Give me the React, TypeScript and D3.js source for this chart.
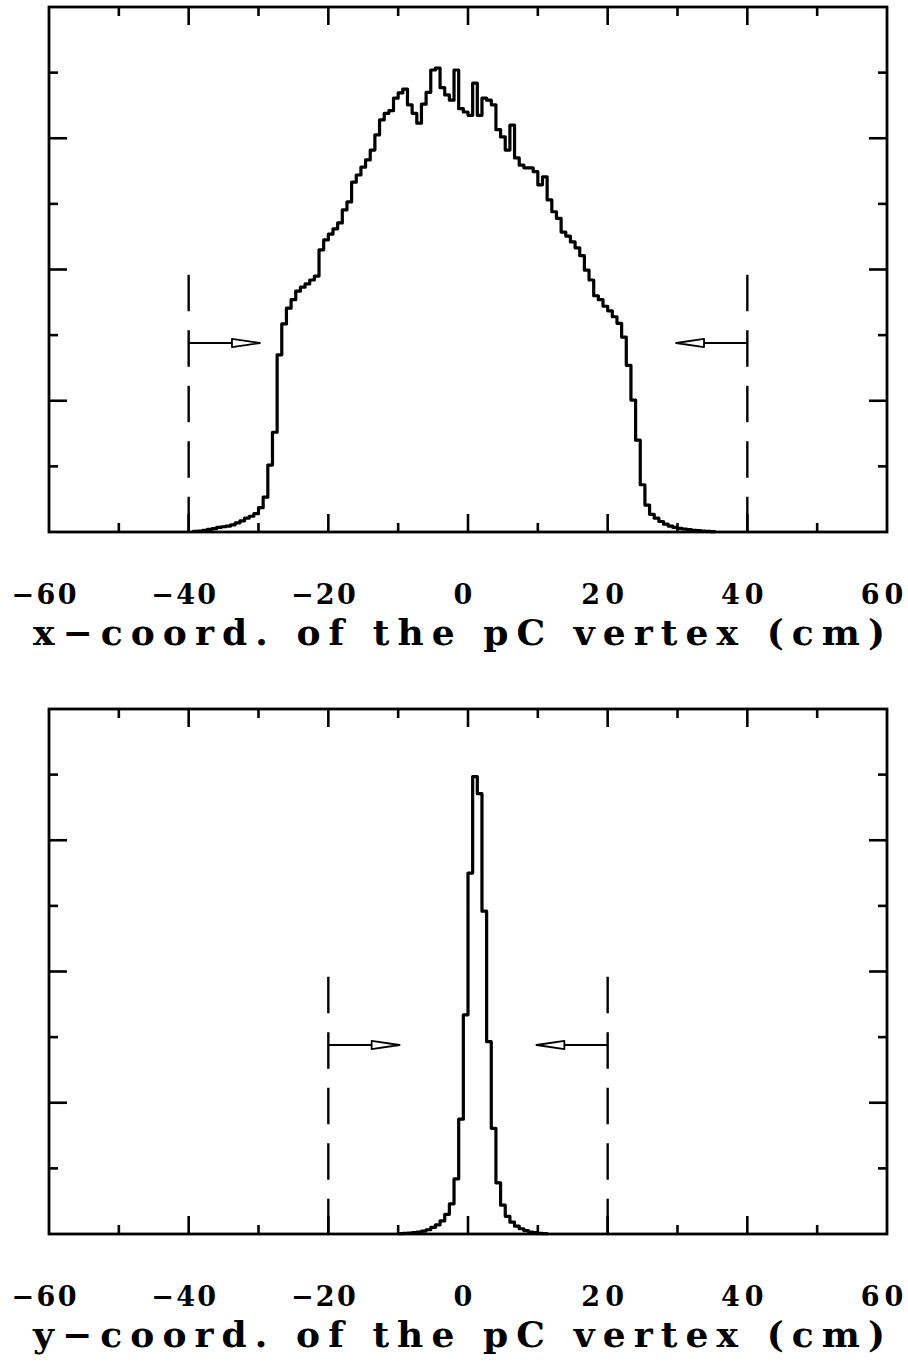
import React from "react";
import * as d3 from "d3";

// ---- data ----
const binWidth = 2 / 3; // cm
const xFirstEdge = -59 * binWidth; // first bin left edge (cm)
const xCounts = [
  0.01, 0.015, 0.025, 0.04, 0.05, 0.07, 0.08, 0.09, 0.11, 0.14,
  0.17, 0.21, 0.24, 0.28, 0.37, 0.53, 1.02, 1.52, 2.7, 3.17,
  3.41, 3.54, 3.67, 3.73, 3.78, 3.84, 3.9, 4.3, 4.45, 4.54,
  4.62, 4.71, 4.91, 5.03, 5.33, 5.44, 5.56, 5.67, 5.82, 6.05,
  6.28, 6.38, 6.42, 6.61, 6.69, 6.75, 6.51, 6.38, 6.23, 6.52,
  6.7, 7.04, 7.07, 6.77, 6.66, 6.58, 7.04, 6.45, 6.4, 6.35,
  6.84, 6.35, 6.61, 6.58, 6.51, 6.13, 6.02, 5.82, 6.2, 5.7,
  5.59, 5.55, 5.55, 5.49, 5.29, 5.41, 5.06, 4.88, 4.78, 4.57,
  4.51, 4.42, 4.33, 4.21, 3.99, 3.84, 3.6, 3.54, 3.44, 3.37,
  3.28, 3.18, 2.97, 2.54, 2.01, 1.4, 0.72, 0.41, 0.27, 0.21,
  0.16, 0.12, 0.09, 0.07, 0.056, 0.046, 0.035, 0.027, 0.021, 0.015,
  0.01, 0.007,
];
const yFirstEdge = -15 * binWidth;
const yCounts = [
  0.005, 0.01, 0.015, 0.02, 0.03, 0.045, 0.065, 0.1, 0.14, 0.2,
  0.3, 0.46, 0.84, 1.75, 3.34, 5.5, 6.97, 6.71, 4.92, 2.93,
  1.61, 0.78, 0.44, 0.27, 0.18, 0.12, 0.08, 0.05, 0.03, 0.02,
  0.01, 0.005,
];
const xTickValues = [-60, -40, -20, 0, 20, 40, 60];
const xTickLabels = ["\u221260", "\u221240", "\u221220", "0", "20", "40", "60"];
const minorXTicks = [-50, -30, -10, 10, 30, 50];
const majorYTicks = [2, 4, 6];
const minorYTicks = [1, 3, 5, 7];
const xCut = 40;
const yCut = 20;
const titles = ["x\u2212coord. of the pC vertex (cm)", "y\u2212coord. of the pC vertex (cm)"];

const W = 908;
const H = 1362;
const FONT = "'DejaVu Serif', serif";

function Panel({ top, counts, firstEdge, cut, title }: { top: number; counts: number[]; firstEdge: number; cut: number; title: string }) {
  const left = 49, right = 887, height = 525;
  const bottom = top + height;
  const x = d3.scaleLinear().domain([-60, 60]).range([left, right]);
  const y = d3.scaleLinear().domain([0, 8]).range([bottom, top]);

  const pts: [number, number][] = [[firstEdge, 0]];
  counts.forEach((v, i) => pts.push([firstEdge + i * binWidth, v]));
  pts.push([firstEdge + counts.length * binWidth, 0]);
  const line = d3
    .line<[number, number]>()
    .x((d) => x(d[0]))
    .y((d) => y(d[1]))
    .curve(d3.curveStepAfter);

  const majL = 18, minL = 9;
  const dashTop = 3.92, arrowV = 2.88, lineLen = 6.2, headLen = 4.0;

  const arrow = (xc: number, dir: number) => {
    const x0 = x(xc);
    const xb = x(xc + dir * lineLen);
    const xt = x(xc + dir * (lineLen + headLen));
    const ya = y(arrowV);
    return (
      <g>
        <line x1={x0} x2={xb} y1={ya} y2={ya} stroke="#000" strokeWidth={2} />
        <path
          d={`M${xb},${ya - 4.2} L${xt},${ya} L${xb},${ya + 4.2} Z`}
          fill="#fff"
          stroke="#000"
          strokeWidth={1.8}
          strokeLinejoin="round"
        />
      </g>
    );
  };

  return (
    <g>
      {[-cut, cut].map((c) => (
        <line
          key={c}
          x1={x(c)}
          x2={x(c)}
          y1={y(dashTop)}
          y2={bottom}
          stroke="#000"
          strokeWidth={2.4}
          strokeDasharray="36.5,19"
        />
      ))}
      {arrow(-cut, 1)}
      {arrow(cut, -1)}
      <path d={line(pts) || ""} fill="none" stroke="#000" strokeWidth={3.2} strokeLinejoin="round" />
      <rect x={left} y={top} width={right - left} height={height} fill="none" stroke="#000" strokeWidth={2.8} />
      {xTickValues.slice(1, -1).map((t) => (
        <g key={"M" + t}>
          <line x1={x(t)} x2={x(t)} y1={top} y2={top + majL} stroke="#000" strokeWidth={2.6} />
          <line x1={x(t)} x2={x(t)} y1={bottom} y2={bottom - majL} stroke="#000" strokeWidth={2.6} />
        </g>
      ))}
      {minorXTicks.map((t) => (
        <g key={"m" + t}>
          <line x1={x(t)} x2={x(t)} y1={top} y2={top + minL} stroke="#000" strokeWidth={2.6} />
          <line x1={x(t)} x2={x(t)} y1={bottom} y2={bottom - minL} stroke="#000" strokeWidth={2.6} />
        </g>
      ))}
      {majorYTicks.map((t) => (
        <g key={"yM" + t}>
          <line x1={left} x2={left + majL} y1={y(t)} y2={y(t)} stroke="#000" strokeWidth={2.6} />
          <line x1={right} x2={right - majL} y1={y(t)} y2={y(t)} stroke="#000" strokeWidth={2.6} />
        </g>
      ))}
      {minorYTicks.map((t) => (
        <g key={"ym" + t}>
          <line x1={left} x2={left + minL} y1={y(t)} y2={y(t)} stroke="#000" strokeWidth={2.6} />
          <line x1={right} x2={right - minL} y1={y(t)} y2={y(t)} stroke="#000" strokeWidth={2.6} />
        </g>
      ))}
      {xTickValues.map((t, i) => {
        const lab = xTickLabels[i];
        const props: any = {};
        if (lab.length > 1) {
          props.textLength = lab.length * 22.3 - 2;
          props.lengthAdjust = "spacing";
        }
        return (
          <text
            key={"l" + t}
            x={x(t) - 5}
            y={bottom + 72}
            textAnchor="middle"
            fontFamily={FONT}
            fontWeight="bold"
            fontSize={27}
            {...props}
          >
            {lab}
          </text>
        );
      })}
      <text
        x={33}
        y={bottom + 113}
        fontFamily={FONT}
        fontWeight="bold"
        fontSize={36}
        textLength={852}
        lengthAdjust="spacing"
      >
        {title}
      </text>
    </g>
  );
}

export default function App() {
  return (
    <svg
      width={W}
      height={H}
      viewBox={`0 0 ${W} ${H}`}
      style={{ position: "absolute", left: 0, top: 0, background: "#fff" }}
    >
      <rect x={0} y={0} width={W} height={H} fill="#fff" />
      <Panel top={7} counts={xCounts} firstEdge={xFirstEdge} cut={xCut} title={titles[0]} />
      <Panel top={709} counts={yCounts} firstEdge={yFirstEdge} cut={yCut} title={titles[1]} />
    </svg>
  );
}
